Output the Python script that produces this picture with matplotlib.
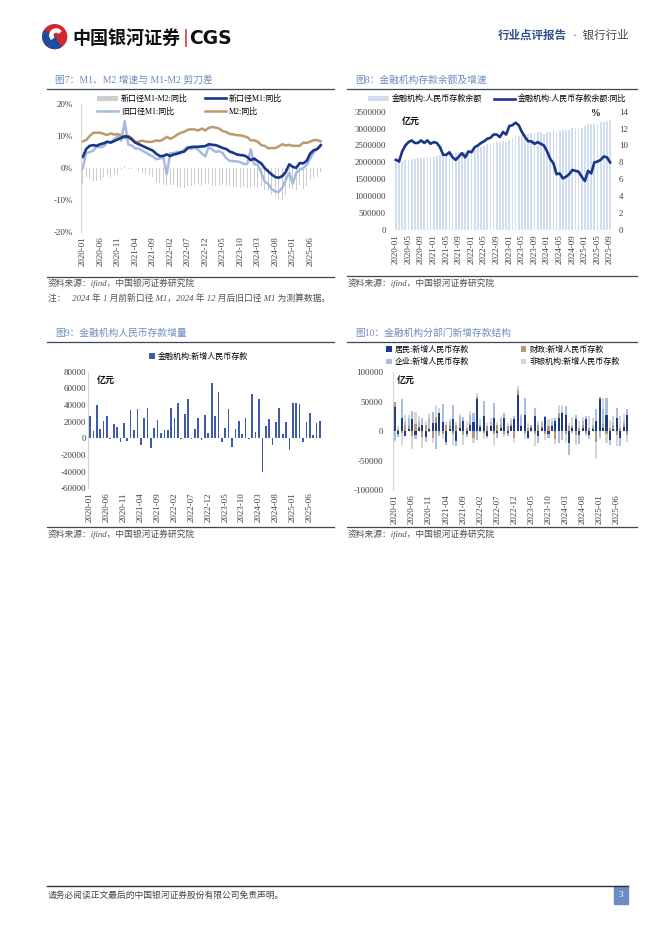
import numpy as np
import matplotlib
matplotlib.use('Agg')
import matplotlib.pyplot as plt
from matplotlib.patches import Circle, Wedge, Rectangle
from matplotlib.lines import Line2D

W, H = 662, 936
plt.rcParams['font.family'] = ['Liberation Serif', 'Noto Sans CJK SC']
plt.rcParams['axes.unicode_minus'] = False

# ---------------- data ----------------
months = [f'{y}-{m:02d}' for y in range(2020, 2026) for m in range(1, 13)][:69]

# fig 7 (%, 2020-01 .. 2025-09)
m2 = [8.4, 8.8, 10.1, 11.1, 11.1, 11.1, 10.7, 10.4, 10.9, 10.5, 10.7, 10.1,
      9.4, 10.1, 9.4, 8.1, 8.3, 8.6, 8.3, 8.2, 8.3, 8.7, 8.5, 9.0,
      9.8, 9.2, 9.7, 10.5, 11.1, 11.4, 12.0, 12.2, 12.1, 11.8, 12.4, 11.8,
      12.6, 12.9, 12.7, 12.4, 11.6, 11.3, 10.7, 10.6, 10.3, 10.3, 10.0, 9.7,
      8.7, 8.7, 8.3, 7.2, 7.0, 6.2, 6.3, 6.3, 6.8, 7.5, 7.1, 7.3,
      7.0, 7.0, 7.0, 8.0, 7.9, 8.3, 8.8, 8.8, 8.4]
m1_new = [3.5, 6.0, 7.0, 7.2, 7.0, 7.5, 7.8, 8.3, 8.0, 8.5, 9.0, 9.5,
          10.0, 9.8, 9.0, 8.0, 7.5, 7.0, 6.5, 6.0, 5.5, 4.5, 3.8, 3.8,
          4.3, 3.8, 4.3, 4.5, 5.0, 5.2, 6.3, 6.6, 6.7, 6.7, 6.8, 6.9,
          7.5, 7.3, 7.2, 6.8, 6.3, 6.0, 5.2, 4.8, 4.3, 4.1, 4.0, 3.5,
          2.5, 3.0, 2.2, 1.5, 0.0, -1.0, -2.0, -2.8, -3.0, -2.5, -1.2, 1.2,
          0.4, 0.1, 1.6, 1.5, 2.3, 4.6, 5.6, 6.0, 7.2]
m1_old = [0.0, 4.8, 5.0, 5.5, 6.8, 6.5, 6.9, 8.0, 8.1, 9.1, 10.0, 8.6,
          14.7, 7.4, 7.1, 6.2, 6.1, 5.5, 4.9, 4.2, 3.7, 2.8, 3.0, 3.5,
          -1.9, 4.7, 4.7, 5.1, 4.6, 5.8, 6.7, 6.1, 6.4, 5.8, 4.6, 3.7,
          6.7, 5.8, 5.1, 5.3, 4.7, 3.1, 2.3, 2.2, 2.1, 1.9, 1.3, 1.3,
          5.9, 1.2, 1.1, -1.4, -4.2, -5.0, -6.6, -7.3, -7.4, -6.1, -3.7, -1.4,
          -4.8, -1.5, -0.5, 0.0, 1.0, 3.0, 5.0, 6.0, 7.0]
m1_m2 = [-4.9, -2.8, -3.1, -3.9, -4.1, -3.6, -2.9, -2.1, -2.9, -2.0, -1.7, -0.6,
         0.6, -0.3, -0.4, -0.1, -0.8, -1.6, -1.8, -2.2, -2.8, -4.2, -4.7, -5.2,
         -5.5, -5.4, -5.4, -6.0, -6.1, -6.2, -5.7, -5.6, -5.4, -5.1, -5.6, -4.9,
         -5.1, -5.6, -5.5, -5.6, -5.3, -5.3, -5.5, -5.8, -6.0, -6.2, -6.0, -6.2,
         -6.2, -5.7, -6.1, -5.7, -7.0, -7.2, -8.3, -9.1, -9.8, -10.0, -8.3, -6.1,
         -6.6, -6.9, -5.4, -6.5, -5.6, -3.7, -3.2, -2.8, -1.2]

# fig 8: deposit balance (亿元) and yoy (%)
dep_bal = [1980000, 2000000, 2040000, 2060000, 2080000, 2110000, 2100000, 2120000, 2140000, 2130000, 2150000, 2130000,
           2160000, 2190000, 2230000, 2230000, 2240000, 2290000, 2270000, 2290000, 2310000, 2300000, 2310000, 2330000,
           2370000, 2400000, 2460000, 2470000, 2500000, 2550000, 2540000, 2570000, 2600000, 2600000, 2620000, 2590000,
           2660000, 2730000, 2780000, 2790000, 2810000, 2850000, 2840000, 2860000, 2880000, 2890000, 2890000, 2850000,
           2900000, 2910000, 2950000, 2910000, 2930000, 2960000, 2950000, 2970000, 3010000, 3010000, 3000000, 3020000,
           3080000, 3130000, 3150000, 3140000, 3160000, 3200000, 3190000, 3220000, 3240000]
dep_yoy = [8.3, 8.1, 9.3, 10.0, 10.4, 10.6, 10.3, 10.3, 10.6, 10.3, 10.6, 10.2,
           10.4, 10.3, 9.8, 8.9, 8.9, 9.2, 8.6, 8.3, 8.7, 9.1, 8.6, 9.3,
           9.2, 9.8, 10.0, 10.3, 10.5, 10.8, 10.9, 11.3, 11.3, 11.0, 11.6, 11.3,
           12.3, 12.4, 12.7, 12.4, 11.6, 11.0, 10.5, 10.5, 10.2, 10.4, 10.2, 10.0,
           9.3, 8.4, 7.9, 6.6, 6.7, 6.1, 6.3, 6.6, 7.1, 7.0, 6.9, 6.3,
           5.8, 7.0, 6.7, 8.0, 8.1, 8.3, 8.7, 8.6, 8.0]

# fig 9: new RMB deposits (亿元)
new_dep = [27000, 9000, 40000, 11000, 21000, 27000, -1000, 17000, 14000, -4000, 19000, -3000,
           34000, 10000, 35000, -8000, 24000, 37000, -12000, 12000, 22000, 6000, 10000, 10000,
           37000, 24000, 43000, -1000, 29000, 47000, -500, 11000, 24000, -2000, 28000, 6000,
           67000, 27000, 56000, -5000, 13000, 35000, -11000, 11000, 21000, 5000, 24000, -300,
           53000, 8000, 47000, -40000, 15000, 23000, -8000, 20000, 36000, 5000, 20000, -14000,
           42000, 43000, 41000, -4000, 20000, 30000, 4000, 19000, 21000]

# fig 10: new deposits by sector (千亿元 -> x1000 亿元)
hh = [41, -5, 22, -8, 3, 20, -6, 6, 10, -10, 4, 14,
      14, 30, 16, -18, 3, 20, -16, 5, 18, -5, 10, 16,
      54, 7, 25, -8, 8, 23, -3, 6, 22, -3, 8, 20,
      62, 8, 27, -12, 5, 25, -8, 5, 24, -5, 8, 18,
      22, 30, 27, -20, 6, 20, -7, 6, 20, -6, 4, 18,
      55, 6, 28, -15, 3, 23, -11, 7, 27]
fis = [8, 3, -3, 10, 5, -8, 12, 2, -10, 10, -2, -12,
       10, -3, -5, 10, 8, -5, 10, 8, -6, 6, 3, -12,
       4, 3, -3, 8, 3, -5, 10, 4, -5, 8, 4, -12,
       7, 2, -3, 6, 3, -5, 10, 4, -5, 8, 3, -14,
       8, 3, -5, 8, 3, -6, 6, 4, -4, 5, 3, -18,
       3, 6, -5, 5, 8, -6, 6, 5, -7]
corp = [-15, -5, 33, 5, 15, 14, -8, 10, 12, -9, 18, 19,
        -30, -5, 30, -5, 6, 25, -10, 12, 6, -5, 14, 14,
        -15, -2, 27, -3, 5, 24, -8, 10, 8, -5, 5, 6,
        2, 15, 30, -2, 3, 15, -12, 6, 2, -6, 6, 4,
        -20, -15, 15, -20, -3, 8, -15, 8, 5, -8, 3, 20,
        -10, 25, 28, -8, 5, 17, -15, 5, 10]
nb = [-3, 6, -20, 12, 5, -22, 20, 8, -18, 8, 8, -8,
      20, 10, -8, 5, 4, -20, 6, 4, -18, 12, 8, -8,
      6, 10, -10, 6, 6, -18, 6, 4, -5, 6, 6, -8,
      6, 4, -10, 8, -2, -20, 8, 2, -10, 12, 5, -7,
      15, 12, -15, 5, 15, -18, 12, 6, -5, 20, 12, -30,
      -3, 20, -15, 14, 10, -20, 20, 12, -12]

# ---------------- helpers ----------------
fig = plt.figure(figsize=(W / 100, H / 100), dpi=100)


def box(l, t, r, b):
    return fig.add_axes([l / W, 1 - b / H, (r - l) / W, (b - t) / H])


def ftext(x, y, s, **kw):
    kw.setdefault('va', 'center')
    fig.text(x / W, 1 - y / H, s, **kw)


def hline(x0, x1, y, color='#3d4756', lw=0.9):
    fig.add_artist(Line2D([x0 / W, x1 / W], [1 - y / H] * 2, color=color, lw=lw))


def style(ax, left=True):
    for s in ['top', 'right', 'bottom']:
        ax.spines[s].set_visible(False)
    ax.spines['left'].set_visible(left)
    ax.spines['left'].set_color('#d4d4d4')
    ax.spines['left'].set_linewidth(0.8)
    ax.tick_params(length=0, labelsize=6.5, colors='#404040', pad=3)
    ax.patch.set_alpha(0)


def xlabels(ax, step):
    idx = list(range(0, 69, step))
    ax.set_xticks(idx)
    ax.set_xticklabels([months[i] for i in idx], rotation=90, fontsize=6.5)
    ax.set_xlim(-0.6, 68.6)


title_c = '#6c8bc0'
src_kw = dict(fontsize=6.3, color='#505050', style='italic')
x = np.arange(69)

# ---------------- header ----------------
lg = box(40, 24, 68, 52)
lg.set_xlim(-1, 1); lg.set_ylim(-1, 1); lg.set_aspect('equal'); lg.axis('off')
lg.add_patch(Circle((0.05, 0.1), 0.85, color='#d3252c'))
lg.add_patch(Wedge((0.05, 0.1), 0.85, 150, 300, color='#1f4c9e'))
lg.add_patch(Wedge((0.15, 0.2), 0.45, 40, 220, width=0.22, color='white'))
ftext(72, 38, '中国银河证券', fontsize=13, weight='bold', color='#111111', family='Noto Sans CJK SC')
ftext(183, 38, '|', fontsize=13, color='#d3252c', family='DejaVu Sans')
ftext(189, 38, 'CGS', fontsize=13.5, weight='bold', color='#111111', family='DejaVu Sans')
ftext(498, 36, '行业点评报告', fontsize=8.3, weight='bold', color='#2f4f8f')
ftext(573, 36, '·  银行行业', fontsize=8.3, color='#444444')

# ---------------- fig 7 ----------------
ftext(55, 80, '图7：M1、M2 增速与 M1-M2 剪刀差', fontsize=7, color=title_c)
hline(47, 334, 89)
ax7 = box(81, 104.3, 322.5, 232)
style(ax7)
b7 = ax7.bar(x, m1_m2, 0.42, color='#cdcdcd', label='新口径M1-M2:同比')
l_old, = ax7.plot(x, m1_old, color='#a5b9e2', lw=1.8, label='旧口径M1:同比')
l_m2, = ax7.plot(x, m2, color='#bc9a6c', lw=1.8, label='M2:同比')
l_new, = ax7.plot(x, m1_new, color='#1a3687', lw=1.9, label='新口径M1:同比')
ax7.set_ylim(-20, 20)
ax7.set_yticks([-20, -10, 0, 10, 20])
ax7.set_yticklabels(['-20%', '-10%', '0%', '10%', '20%'])
ax7.tick_params(axis='y', pad=6)
xlabels(ax7, 5)
ax7.set_xlim(-0.5, 68.5)
ax7.legend([b7, l_old, l_new, l_m2], ['新口径M1-M2:同比', '旧口径M1:同比', '新口径M1:同比', 'M2:同比'],
           ncol=2, loc='upper left', bbox_to_anchor=(97 / W, 1 - 95 / H), bbox_transform=fig.transFigure,
           frameon=False, fontsize=5.8, handlelength=2.6, handleheight=0.6, handletextpad=0.35,
           columnspacing=2.2, labelspacing=0.6, borderpad=0, borderaxespad=0)
hline(47, 334, 276.7)
ftext(48, 283.5, '资料来源：ifind，中国银河证券研究院', **src_kw)
ftext(48, 299.5, '注：   2024 年 1 月前新口径 M1，2024 年 12 月后旧口径 M1 为测算数据。', **src_kw)

# ---------------- fig 8 ----------------
ftext(355, 80, '图8：金融机构存款余额及增速', fontsize=7, color=title_c)
hline(347, 637, 89)
ax8 = box(394, 111.7, 612, 230)
style(ax8, left=False)
b8 = ax8.bar(x, dep_bal, 0.55, color='#d3ddf0', label='金融机构:人民币存款余额')
ax8.set_ylim(0, 3500000)
ax8.set_yticks(np.arange(0, 3500001, 500000))
ax8.set_yticklabels([f'{v:d}' for v in range(0, 3500001, 500000)])
ax8.tick_params(axis='y', pad=6)
xlabels(ax8, 4)
ax8r = ax8.twinx()
style(ax8r, left=False)
l8, = ax8r.plot(x, dep_yoy, color='#1a3687', lw=1.9, label='金融机构:人民币存款余额:同比')
ax8r.set_ylim(0, 14)
ax8r.set_yticks(range(0, 15, 2))
ax8r.tick_params(axis='y', pad=5)
ax8.legend([b8, l8], ['金融机构:人民币存款余额', '金融机构:人民币存款余额:同比'], ncol=2, loc='upper left',
           bbox_to_anchor=(368 / W, 1 - 95 / H), bbox_transform=fig.transFigure, frameon=False, fontsize=5.8,
           handlelength=2.6, handleheight=0.6, handletextpad=0.35, columnspacing=1.5, borderpad=0, borderaxespad=0)
ftext(402, 121, '亿元', fontsize=6.5, weight='bold', color='#111111')
ftext(591, 114, '%', fontsize=7, weight='bold', color='#111111')
hline(347, 637, 275.7)
ftext(348, 283.5, '资料来源：ifind，中国银河证券研究院', **src_kw)

# ---------------- fig 9 ----------------
ftext(55, 333, '图9：金融机构人民币存款增量', fontsize=7, color=title_c)
hline(47, 334, 342.3)
ax9 = box(88, 371.7, 321.9, 488.3)
style(ax9)
b9 = ax9.bar(x, new_dep, 0.5, color='#3e5ca9', label='金融机构:新增人民币存款')
ax9.set_ylim(-60000, 80000)
ax9.set_yticks(range(-60000, 80001, 20000))
ax9.tick_params(axis='y', pad=1.5)
xlabels(ax9, 5)
ax9.legend(loc='upper left', bbox_to_anchor=(149 / W, 1 - 352.5 / H), bbox_transform=fig.transFigure,
           frameon=False, fontsize=5.8, handlelength=0.7, handleheight=0.7, handletextpad=0.4,
           borderpad=0, borderaxespad=0)
ftext(97, 380, '亿元', fontsize=6.5, weight='bold', color='#111111')
hline(47, 334, 527.3)
ftext(48, 534, '资料来源：ifind，中国银河证券研究院', **src_kw)

# ---------------- fig 10 ----------------
ftext(355, 333, '图10：金融机构分部门新增存款结构', fontsize=7, color=title_c)
hline(347, 637, 342.3)
ax10 = box(393, 372.3, 629, 490)
style(ax10)
pos = np.zeros(69)
neg = np.zeros(69)
handles = []
for vals, col, lab in [(hh, '#1c3a86', '居民:新增人民币存款'),
                       (fis, '#b59b6b', '财政:新增人民币存款'),
                       (corp, '#a9bde3', '企业:新增人民币存款'),
                       (nb, '#d6d6d6', '非银机构:新增人民币存款')]:
    v = np.array(vals) * 1000.0
    bottom = np.where(v >= 0, pos, neg)
    handles.append(ax10.bar(x, v, 0.6, bottom=bottom, color=col, label=lab))
    pos += np.clip(v, 0, None)
    neg += np.clip(v, None, 0)
ax10.set_ylim(-100000, 100000)
ax10.set_yticks(range(-100000, 100001, 50000))
ax10.tick_params(axis='y', pad=7)
xlabels(ax10, 5)
ax10.legend([handles[0], handles[2], handles[1], handles[3]],
            ['居民:新增人民币存款', '企业:新增人民币存款', '财政:新增人民币存款', '非银机构:新增人民币存款'],
            ncol=2, loc='upper left', bbox_to_anchor=(386 / W, 1 - 345.5 / H), bbox_transform=fig.transFigure,
            frameon=False, fontsize=5.8, handlelength=0.7, handleheight=0.7, handletextpad=0.4,
            columnspacing=6.4, labelspacing=0.55, borderpad=0, borderaxespad=0)
ftext(397, 380, '亿元', fontsize=6.5, weight='bold', color='#111111')
hline(347, 637, 527.3)
ftext(348, 534, '资料来源：ifind，中国银河证券研究院', **src_kw)

# ---------------- footer ----------------
hline(47, 628, 886, color='#333333', lw=1.0)
ftext(48, 895, '请务必阅读正文最后的中国银河证券股份有限公司免责声明。', fontsize=6.3, color='#444444')
fig.add_artist(Rectangle((614 / W, 1 - 904 / H), 14 / W, 18 / H, transform=fig.transFigure,
                         color='#6d8cc4'))
ftext(621, 895, '3', fontsize=6.5, color='white', ha='center')

fig.savefig('out.png', dpi=100)
